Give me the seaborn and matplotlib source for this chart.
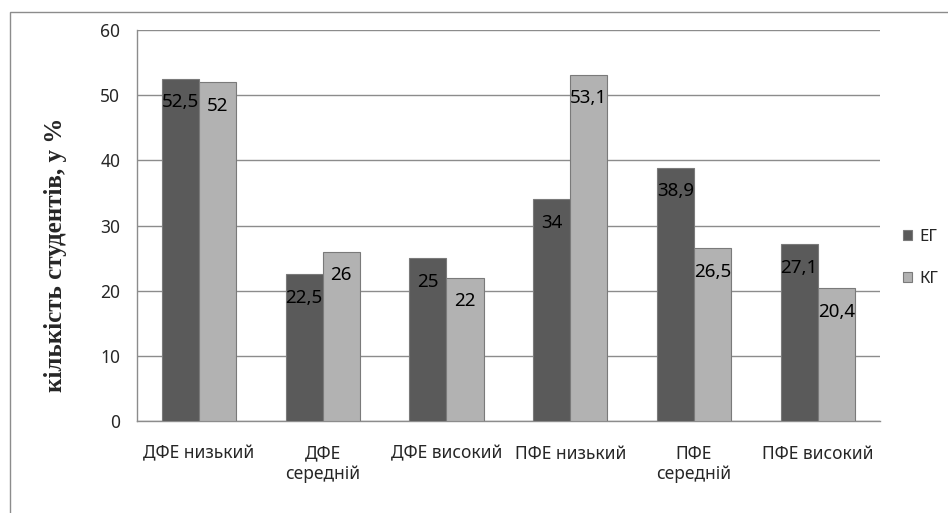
import pandas as pd
import numpy as np
import matplotlib
matplotlib.use("Agg")
import matplotlib.pyplot as plt
import seaborn as sns
from matplotlib.patches import Rectangle

categories = ["ДФЕ низький", "ДФЕ\nсередній", "ДФЕ високий", "ПФЕ низький", "ПФЕ\nсередній", "ПФЕ високий"]
eg_values = [52.5, 22.5, 25, 34, 38.9, 27.1]
kg_values = [52, 26, 22, 53.1, 26.5, 20.4]
series = ["ЕГ", "КГ"]
yticks = [0, 10, 20, 30, 40, 50, 60]

df = pd.DataFrame({
    "cat": categories * 2,
    "value": eg_values + kg_values,
    "group": [series[0]] * len(categories) + [series[1]] * len(categories),
})

sns.set_style("white")
plt.rcParams["font.family"] = ["Noto Sans", "DejaVu Sans"]

fig = plt.figure(figsize=(9.48, 5.13), dpi=100)
ax = fig.add_axes([0.1445, 0.1793, 0.7835, 0.7622])

sns.barplot(data=df, x="cat", y="value", hue="group", order=categories,
            palette=["#5a5a5a", "#b2b2b2"], width=0.6, saturation=1,
            edgecolor="#7a7a7a", linewidth=0.8, ax=ax, zorder=3)

for cont in ax.containers:
    for bar, val in zip(cont, cont.datavalues):
        txt = f"{val:g}".replace(".", ",")
        ax.text(bar.get_x() + bar.get_width() / 2, val - 3.6, txt,
                ha="center", va="center", fontsize=13.5, color="black", zorder=5)

ax.set_ylim(0, 60)
ax.set_xlim(-0.5, len(categories) - 0.5)
ax.set_yticks(yticks)
ax.yaxis.grid(True, color="#8c8c8c", linewidth=1, zorder=0)
ax.set_axisbelow(True)

ax.set_xticks(range(len(categories)))
ax.set_xticklabels(categories, fontsize=12.5, linespacing=1.2)
ax.set_xticks(np.arange(-0.5, len(categories)), minor=True)
ax.tick_params(axis="x", which="major", length=0, pad=17)
ax.tick_params(axis="x", which="minor", length=6, color="#8c8c8c", direction="out")
ax.tick_params(axis="y", length=6, color="#8c8c8c", labelsize=12.5, pad=6)

for side in ["top", "right"]:
    ax.spines[side].set_visible(False)
for side in ["left", "bottom"]:
    ax.spines[side].set_color("#8c8c8c")
    ax.spines[side].set_linewidth(1)

ax.set_xlabel("")
ax.set_ylabel("кількість студентів, у %", fontsize=18, fontweight="bold",
              family="Liberation Serif")
ax.yaxis.set_label_coords(-0.094, 0.425)

handles, labels = ax.get_legend_handles_labels()
ax.legend(handles, labels, loc="center left", bbox_to_anchor=(1.0, 0.417),
          frameon=False, fontsize=12, handlelength=0.55, handleheight=0.55,
          handletextpad=0.4, labelspacing=1.6, borderaxespad=1.0)

fig.patches.append(Rectangle((10 / 948, -0.02), 1.02, 1 - 12 / 513 + 0.02,
                             transform=fig.transFigure, fill=False,
                             edgecolor="#8c8c8c", linewidth=1))

fig.savefig("out.png", dpi=100)
